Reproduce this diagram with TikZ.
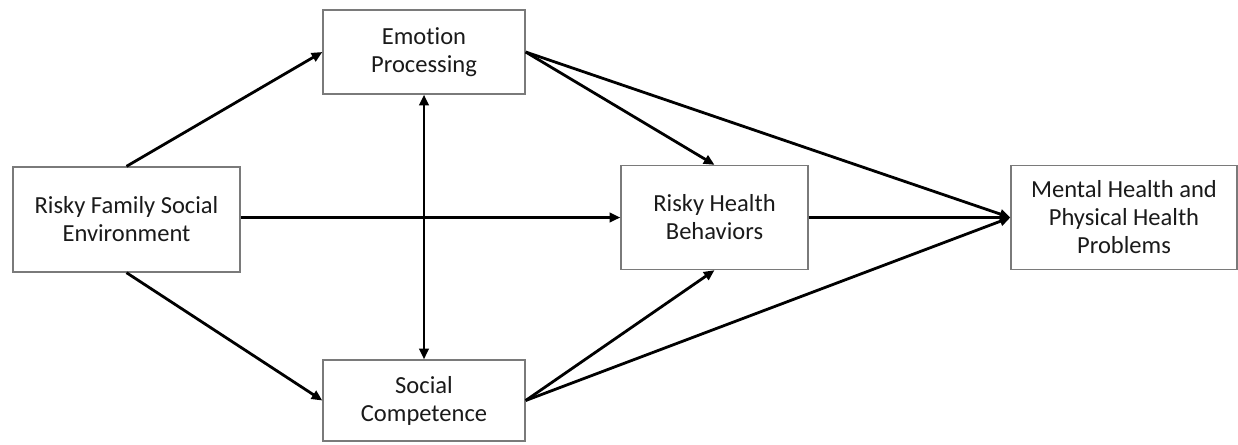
\documentclass[tikz,border=0pt]{standalone}
\usepackage{fontspec}
\setmainfont[Ligatures=NoCommon]{Carlito}
\usetikzlibrary{arrows.meta}
\definecolor{txt}{HTML}{1A1A1A}
\definecolor{frame}{HTML}{7A7A7A}
\tikzset{
  box/.style={draw=frame, line width=1pt, fill=white, align=center, text=txt,
    font=\fontsize{18.4pt}{21pt}\selectfont, inner sep=0pt},
  conn/.style={line width=2.1pt, black, -{Triangle[length=8pt,width=7pt]}},
  biconn/.style={line width=2.1pt, black, {Triangle[length=8pt,width=7pt]}-{Triangle[length=8pt,width=7pt]}}
}
\begin{document}
\begin{tikzpicture}[x=0.75pt,y=-0.75pt]
\useasboundingbox (0,0) rectangle (1238,444);
\node[box, minimum width=227*0.75pt, minimum height=105*0.75pt] (L) at (126.5,219.5) {Risky Family Social\\Environment};
\node[box, minimum width=202*0.75pt, minimum height=84*0.75pt] (E) at (424,52) {Emotion\\Processing};
\node[box, minimum width=202*0.75pt, minimum height=81*0.75pt] (S) at (424,400.5) {Social\\Competence};
\node[box, minimum width=187*0.75pt, minimum height=104*0.75pt] (R) at (714.5,217.5) {Risky Health\\Behaviors};
\node[box, minimum width=226*0.75pt, minimum height=104*0.75pt] (M) at (1124,217.5) {Mental Health and\\Physical Health\\Problems};
\draw[conn] (L.east |- R.west) -- (R.west);
\draw[conn] (L.north) -- (E.west);
\draw[conn] (L.south) -- (S.west);
\draw[conn] (E.east) -- (R.north);
\draw[conn] (E.east) -- (M.west);
\draw[conn] (S.east) -- (R.south);
\draw[conn] (S.east) -- (M.west);
\draw[conn] (R.east) -- (M.west);
\draw[biconn] (E.south) -- (S.north);
\end{tikzpicture}
\end{document}
